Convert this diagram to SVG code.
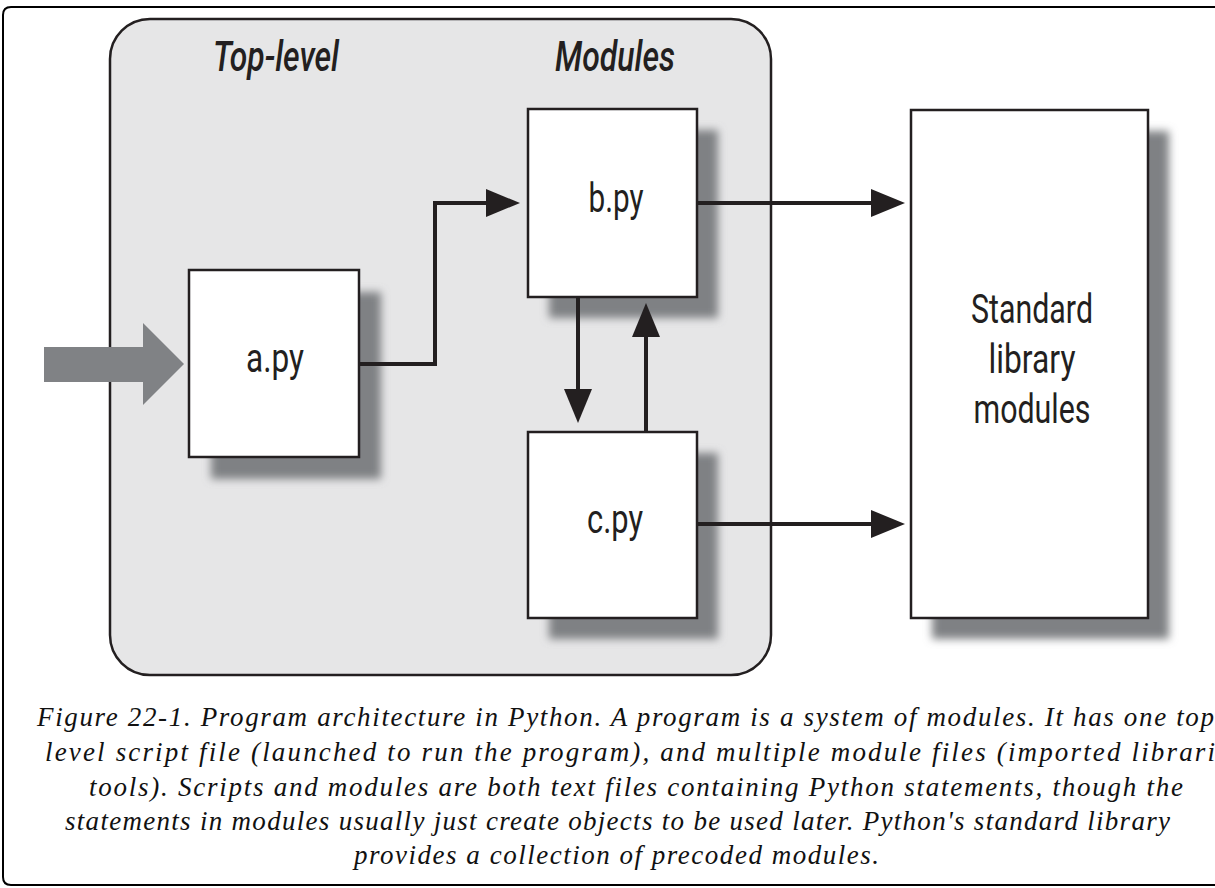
<svg xmlns="http://www.w3.org/2000/svg" width="1215" height="888" viewBox="0 0 1215 888">
<style>
.box{fill:#ffffff;stroke:#231f20;stroke-width:2.5}
.shadow{fill:#7f8184;filter:url(#blur)}
.lbl{font-family:Roboto,"Open Sans","Liberation Sans",sans-serif;font-size:41px;fill:#231f20;text-anchor:middle}
.hdr{font-family:Roboto,"Open Sans","Liberation Sans",sans-serif;font-size:42px;font-style:italic;font-weight:500;fill:#231f20;text-anchor:middle}
.cap{font-family:"Liberation Serif","DejaVu Serif",serif;font-size:27px;font-style:italic;fill:#111111}
.conn{fill:none;stroke:#231f20;stroke-width:4}
</style>
<defs>
<filter id="blur" x="-20%" y="-20%" width="140%" height="140%">
<feGaussianBlur stdDeviation="4"/>
</filter>
<marker id="ah" viewBox="0 0 34 28" refX="4" refY="14" markerWidth="34" markerHeight="28" markerUnits="userSpaceOnUse" orient="auto">
<path d="M0,0 L34,14 L0,28 Z" fill="#231f20"/>
</marker>
</defs>

<g id="frame">
<path d="M1218,7 H11 Q3,7 3,15 V877 Q3,885 11,885 H1218" fill="#ffffff" stroke="#000000" stroke-width="2"/>
</g>

<g id="container">
<rect x="110" y="19" width="661" height="656" rx="40" ry="40" fill="#e6e6e7" stroke="#231f20" stroke-width="2.5"/>
<text class="hdr" x="276" y="71" textLength="126" lengthAdjust="spacingAndGlyphs">Top-level</text>
<text class="hdr" x="615" y="71" textLength="120" lengthAdjust="spacingAndGlyphs">Modules</text>
</g>

<g id="entry-arrow">
<path d="M44,347 H143 V323 L184,364 L143,405 V382 H44 Z" fill="#808285"/>
</g>

<g id="node-a">
<rect class="shadow" x="211" y="292" width="170" height="187"/>
<rect class="box" x="189" y="270" width="170" height="187"/>
<text class="lbl" x="275" y="372" textLength="58" lengthAdjust="spacingAndGlyphs">a.py</text>
</g>

<g id="node-b">
<rect class="shadow" x="549" y="130" width="169" height="188"/>
<rect class="box" x="528" y="109" width="169" height="188"/>
<text class="lbl" x="616" y="212" textLength="55" lengthAdjust="spacingAndGlyphs">b.py</text>
</g>

<g id="node-c">
<rect class="shadow" x="549" y="453" width="169" height="186"/>
<rect class="box" x="528" y="432" width="169" height="186"/>
<text class="lbl" x="615" y="533" textLength="56" lengthAdjust="spacingAndGlyphs">c.py</text>
</g>

<g id="node-std">
<rect class="shadow" x="932" y="131" width="237" height="508"/>
<rect class="box" x="911" y="110" width="237" height="508"/>
<text class="lbl" x="1032" y="323" textLength="122" lengthAdjust="spacingAndGlyphs">Standard</text>
<text class="lbl" x="1032" y="373" textLength="87" lengthAdjust="spacingAndGlyphs">library</text>
<text class="lbl" x="1032" y="423" textLength="117" lengthAdjust="spacingAndGlyphs">modules</text>
</g>

<g id="connectors">
<path class="conn" d="M359,364 H435 V203 H490" marker-end="url(#ah)"/>
<path class="conn" d="M578,297 V393" marker-end="url(#ah)"/>
<path class="conn" d="M646,432 V333" marker-end="url(#ah)"/>
<path class="conn" d="M697,203 H875" marker-end="url(#ah)"/>
<path class="conn" d="M697,524 H875" marker-end="url(#ah)"/>
</g>

<g id="caption">
<text class="cap" x="37" y="726" textLength="1177" lengthAdjust="spacing">Figure 22-1. Program architecture in Python. A program is a system of modules. It has one top</text>
<text class="cap" x="45" y="761" textLength="1170" lengthAdjust="spacing">level script file (launched to run the program), and multiple module files (imported librari</text>
<text class="cap" x="89" y="796" textLength="1094" lengthAdjust="spacing">tools). Scripts and modules are both text files containing Python statements, though the</text>
<text class="cap" x="65" y="830" textLength="1105" lengthAdjust="spacing">statements in modules usually just create objects to be used later. Python's standard library</text>
<text class="cap" x="354" y="864" textLength="525" lengthAdjust="spacing">provides a collection of precoded modules.</text>
</g>
</svg>
